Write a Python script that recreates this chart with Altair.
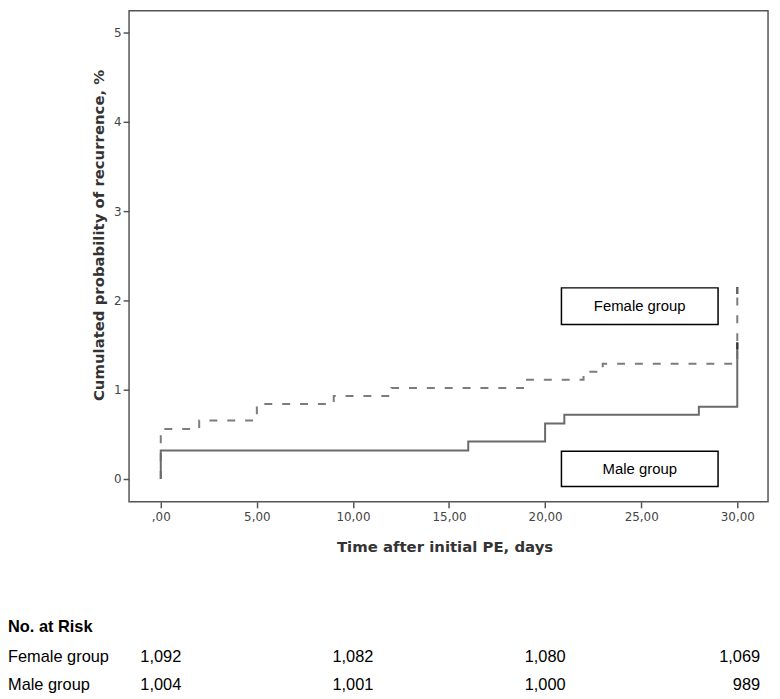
import altair as alt
import pandas as pd

# Kaplan-Meier style step curves (time in days, cumulated probability in %)
female_t = [0, 0, 2, 5, 9, 12, 19, 22, 23, 30]
female_p = [0, 0.56, 0.655, 0.84, 0.93, 1.02, 1.11, 1.20, 1.29, 2.15]
male_t = [0, 0, 16, 20, 21, 28, 30]
male_p = [0, 0.32, 0.42, 0.62, 0.72, 0.81, 1.53]

# censoring marks at end of follow-up
censor_t = [30, 30]
censor_p = [2.11, 1.49]

# label boxes (data coordinates)
box_labels = ["Female group", "Male group"]
box_x1 = [20.85, 20.85]
box_x2 = [29.0, 29.0]
box_y1 = [1.73, -0.085]
box_y2 = [2.14, 0.31]

# number at risk table
risk_times = [0, 10, 20, 30]
risk_female = ["1,092", "1,082", "1,080", "1,069"]
risk_male = ["1,004", "1,001", "1,000", "989"]
risk_rows = ["Female group", "Male group"]

x_ticks = [0, 5, 10, 15, 20, 25, 30]
y_ticks = [0, 1, 2, 3, 4, 5]

X_DOMAIN = [-1.65, 31.6]
Y_DOMAIN = [-0.256, 5.244]

curves = pd.DataFrame({
    "t": female_t + male_t,
    "p": female_p + male_p,
    "group": ["Female group"] * len(female_t) + ["Male group"] * len(male_t),
    "i": list(range(len(female_t))) + list(range(len(male_t))),
})
censor = pd.DataFrame({"t": censor_t, "p": censor_p})
boxes = pd.DataFrame({
    "label": box_labels, "x1": box_x1, "x2": box_x2, "y1": box_y1, "y2": box_y2,
})
boxes["xm"] = (boxes["x1"] + boxes["x2"]) / 2
boxes["ym"] = (boxes["y1"] + boxes["y2"]) / 2

xs = alt.Scale(domain=X_DOMAIN, nice=False, zero=False)
ys = alt.Scale(domain=Y_DOMAIN, nice=False, zero=False)

x_axis = alt.Axis(
    values=x_ticks, labelExpr="datum.value == 0 ? ',00' : datum.value + ',00'",
    title="Time after initial PE, days", grid=False, domain=False,
    tickSize=6, labelPadding=4, titleX=318, titleY=50, titleAlign="center",
    titleBaseline="alphabetic",
)
y_axis = alt.Axis(
    values=y_ticks, labelExpr="datum.value", title="Cumulated probability of recurrence, %",
    grid=False, domain=False, tickSize=6, labelPadding=2,
    titleX=-26, titleY=226, titleAngle=270, titleAlign="center",
    titleBaseline="alphabetic",
)


def X(field):
    return alt.X(field, scale=xs, axis=x_axis)


def Y(field):
    return alt.Y(field, scale=ys, axis=y_axis)


female_line = alt.Chart(curves).transform_filter(
    alt.datum.group == "Female group"
).mark_line(interpolate="step-after", color="#7c7c7c", strokeWidth=2,
            strokeDash=[8, 10]).encode(
    x=X("t:Q"), y=Y("p:Q"), order="i:Q",
)
male_line = alt.Chart(curves).transform_filter(
    alt.datum.group == "Male group"
).mark_line(interpolate="step-after", color="#6a6a6a", strokeWidth=2).encode(
    x=X("t:Q"), y=Y("p:Q"), order="i:Q",
)
censor_marks = alt.Chart(censor).mark_tick(
    orient="vertical", size=7, thickness=2.5, color="#222222"
).encode(x=X("t:Q"), y=Y("p:Q"))
box_rects = alt.Chart(boxes).mark_rect(
    fill="white", stroke="black", strokeWidth=1.5
).encode(x=X("x1:Q"), x2="x2:Q", y=Y("y1:Q"), y2="y2:Q")
box_text = alt.Chart(boxes).mark_text(
    font="Liberation Sans", fontSize=15, color="black", baseline="middle"
).encode(x=X("xm:Q"), y=Y("ym:Q"), text="label:N")

# at-risk table below the plot
risk = pd.DataFrame({
    "t": risk_times * 2,
    "n": risk_female + risk_male,
    "row": [risk_rows[0]] * 4 + [risk_rows[1]] * 4,
})
ROW_Y = {"Female group": 651, "Male group": 680}
layers = []
for row in risk_rows:
    base = alt.Chart(risk).transform_filter(alt.datum.row == row)
    layers.append(
        base.transform_filter(alt.datum.t < 30).mark_text(
            font="Liberation Sans", fontSize=16.5, color="black",
            align="center", baseline="middle"
        ).encode(x=X("t:Q"), y=alt.value(ROW_Y[row]), text="n:N")
    )
    layers.append(
        base.transform_filter(alt.datum.t == 30).mark_text(
            font="Liberation Sans", fontSize=16.5, color="black",
            align="right", baseline="middle", dx=23
        ).encode(x=X("t:Q"), y=alt.value(ROW_Y[row]), text="n:N")
    )
    layers.append(
        alt.Chart(pd.DataFrame({"label": [row]})).mark_text(
            font="Liberation Sans", fontSize=16.5, color="black",
            align="left", baseline="middle"
        ).encode(x=alt.value(-122), y=alt.value(ROW_Y[row]), text="label:N")
    )
layers.append(
    alt.Chart(pd.DataFrame({"label": ["No. at Risk"]})).mark_text(
        font="Liberation Sans", fontSize=16.5, fontWeight="bold", color="black",
        align="left", baseline="middle"
    ).encode(x=alt.value(-122), y=alt.value(621), text="label:N")
)

chart = alt.layer(
    female_line, box_rects, box_text, male_line, censor_marks, *layers
).properties(
    width=644, height=495,
    autosize=alt.AutoSizeParams(type="none"),
    padding={"left": 122, "top": 0, "right": 4, "bottom": 196},
).configure_view(
    stroke="#555555", strokeWidth=1.5
).configure_axis(
    labelFont="DejaVu Sans", labelFontSize=12, labelColor="#444444",
    tickColor="#555555", tickWidth=1.5,
    titleFont="DejaVu Sans", titleFontSize=15, titleFontWeight="bold",
    titleColor="#333333",
)

chart.save("out.html", embed_options={"renderer": "svg", "actions": False})
